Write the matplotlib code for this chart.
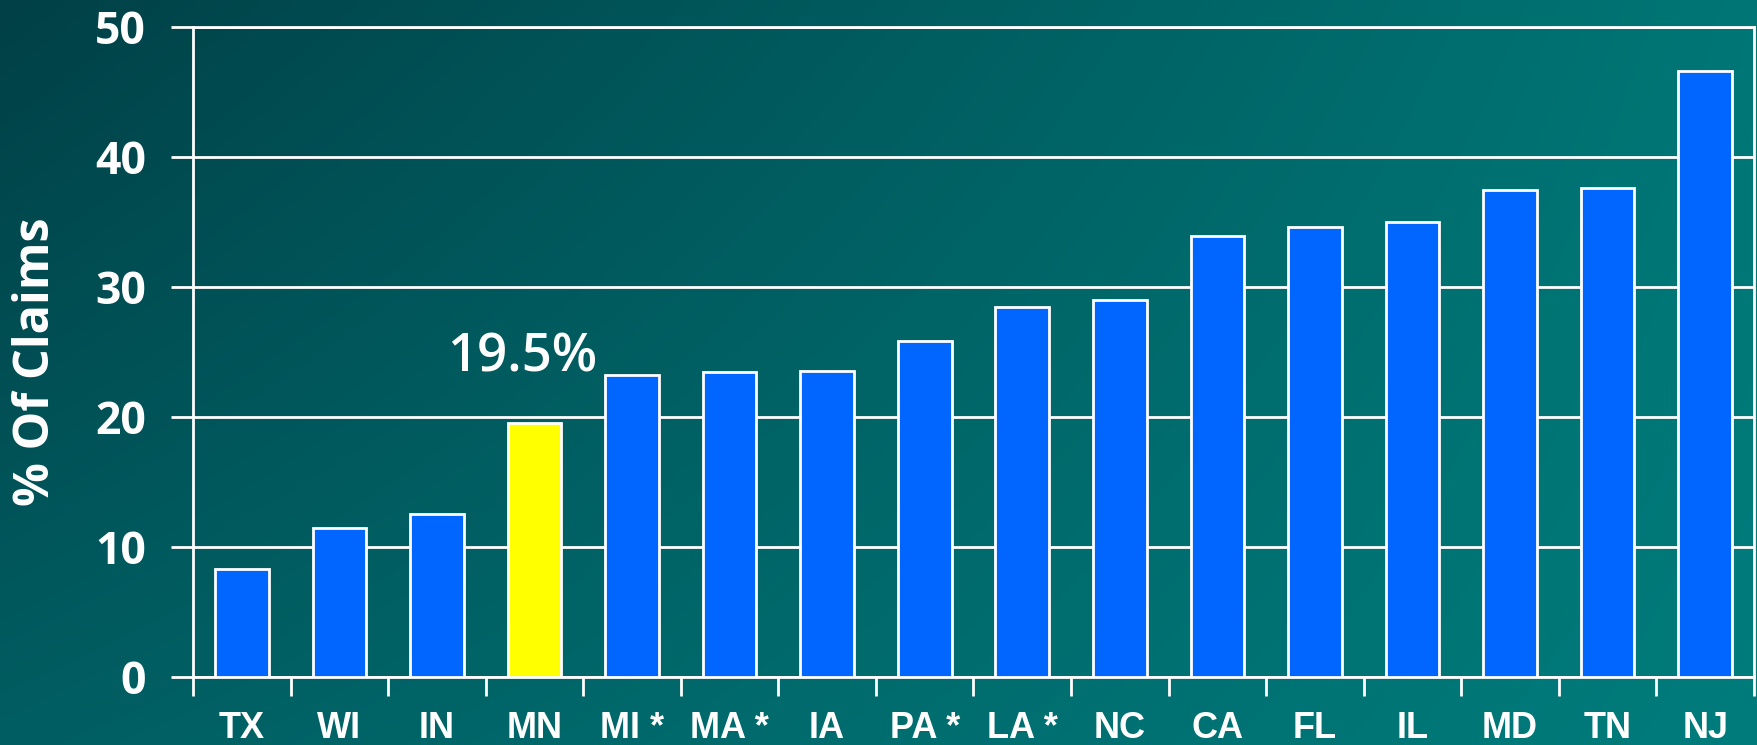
import numpy as np
import matplotlib.pyplot as plt
from matplotlib.ticker import FixedLocator, NullFormatter

states = ['TX', 'WI', 'IN', 'MN', 'MI *', 'MA *', 'IA', 'PA *', 'LA *', 'NC',
          'CA', 'FL', 'IL', 'MD', 'TN', 'NJ']
pct_claims = [8.3, 11.4, 12.5, 19.5, 23.2, 23.4, 23.5, 25.8, 28.4, 29.0,
              33.9, 34.6, 35.0, 37.4, 37.6, 46.6]
highlight = 'MN'
y_ticks = [0, 10, 20, 30, 40, 50]

num_font = ['Open Sans', 'DejaVu Sans']
cond_font = ['Liberation Sans', 'DejaVu Sans']

fig = plt.figure(figsize=(17.58, 7.45), dpi=100)

# background gradient (bilinear between corner colours)
bg = fig.add_axes([0, 0, 1, 1], zorder=-10)
h, w = 200, 400
u = np.linspace(0, 1, w)[None, :, None]
v = np.linspace(0, 1, h)[:, None, None]
tl = np.array([0, 64, 70]) / 255
tr = np.array([0, 118, 118]) / 255
bl = np.array([0, 94, 98]) / 255
br = np.array([0, 124, 124]) / 255
img = (tl * (1 - u) * (1 - v) + tr * u * (1 - v) + bl * (1 - u) * v + br * u * v)
bg.imshow(img, aspect='auto', extent=[0, 1, 0, 1], interpolation='bilinear')
bg.axis('off')

ax = fig.add_axes([0.1098, 0.0917, 0.8879, 0.8725])
ax.patch.set_alpha(0)

x = np.arange(len(states))
colors = ['#FFFF00' if s == highlight else '#0066FF' for s in states]
ax.bar(x, pct_claims, width=0.55, color=colors, edgecolor='white',
       linewidth=2, zorder=3)

ax.set_xlim(-0.5, len(states) - 0.5)
ax.set_ylim(0, 50)
ax.set_yticks(y_ticks)
ax.yaxis.grid(True, color='white', linewidth=2, zorder=0)
ax.set_axisbelow(True)

for sp in ax.spines.values():
    sp.set_color('white')
    sp.set_linewidth(2)

ax.tick_params(axis='y', colors='white', length=16, width=2, pad=18,
               labelsize=32)
for lab in ax.get_yticklabels():
    lab.set_family(num_font)
    lab.set_fontweight('bold')

# category boundary ticks below the axis, labels at centres
ax.set_xticks(x)
ax.set_xticklabels(states)
ax.tick_params(axis='x', which='major', length=0, pad=25, colors='white',
               labelsize=26)
ax.xaxis.set_minor_locator(FixedLocator(np.arange(-0.5, len(states), 1)))
ax.xaxis.set_minor_formatter(NullFormatter())
ax.tick_params(axis='x', which='minor', length=14, width=2, color='white',
               direction='out')
for lab in ax.get_xticklabels():
    lab.set_family(cond_font)
    lab.set_fontweight('bold')

fig.text(0.0205, 0.514, '% Of Claims', rotation=90, ha='center', va='center',
         color='white', fontsize=35, fontweight='bold', family=num_font)

mn = states.index(highlight)
ax.text(mn - 0.13, pct_claims[mn] + 5.0, f'{pct_claims[mn]}%', ha='center',
        va='center', color='white', fontsize=38, fontweight='semibold',
        family=num_font)

fig.savefig('out.png', dpi=100)
